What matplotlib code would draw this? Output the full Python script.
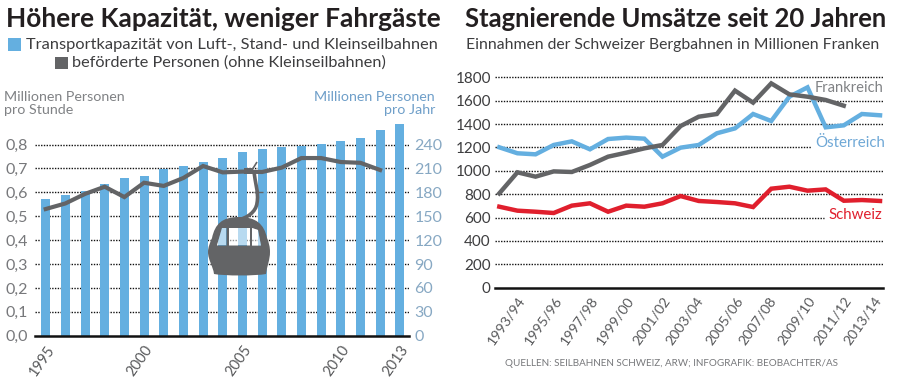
import matplotlib
matplotlib.use("Agg")
import matplotlib.pyplot as plt
from matplotlib.patches import PathPatch, Rectangle
from matplotlib.path import Path
from matplotlib.transforms import ScaledTranslation

BODY = "Lato"

years = list(range(1995, 2014))
capacity = [0.571, 0.589, 0.605, 0.633, 0.658, 0.669, 0.696, 0.711, 0.727, 0.745,
            0.769, 0.781, 0.791, 0.795, 0.802, 0.815, 0.827, 0.859, 0.884]
passengers = [159, 166, 178, 187, 174, 192, 188, 198, 213, 205,
              206, 205.5, 211, 223, 223, 218, 217, 208]
left_ticks = [0.0, 0.1, 0.2, 0.3, 0.4, 0.5, 0.6, 0.7, 0.8]
left_labels = ["0,0", "0,1", "0,2", "0,3", "0,4", "0,5", "0,6", "0,7", "0,8"]
right_ticks = [0, 30, 60, 90, 120, 150, 180, 210, 240]
year_ticks = [1995, 2000, 2005, 2010, 2013]

seasons = ["1992/93", "1993/94", "1994/95", "1995/96", "1996/97", "1997/98", "1998/99", "1999/00",
           "2000/01", "2001/02", "2002/03", "2003/04", "2004/05", "2005/06", "2006/07", "2007/08",
           "2008/09", "2009/10", "2010/11", "2011/12", "2012/13", "2013/14"]
oesterreich = [1201, 1150, 1141, 1221, 1252, 1184, 1272, 1284, 1275, 1121, 1198,
               1221, 1321, 1363, 1486, 1426, 1634, 1714, 1372, 1389, 1486, 1475]
frankreich = [807, 987, 950, 995, 990, 1050, 1121, 1155, 1192, 1221, 1383,
              1463, 1486, 1686, 1583, 1748, 1654, 1634, 1606, 1557]
schweiz = [693, 659, 650, 639, 702, 722, 650, 702, 693, 722, 784,
           742, 733, 722, 690, 847, 864, 830, 841, 744, 750, 742]
money_ticks = [0, 200, 400, 600, 800, 1000, 1200, 1400, 1600, 1800]

BLUE = "#64afe0"
GRAY = "#636466"
RED = "#e01f2d"
W, H = 900, 377

plt.rcParams["font.family"] = BODY
fig = plt.figure(figsize=(W / 100, H / 100), dpi=100)


def px_axes(x0, x1, y0, y1):
    return fig.add_axes([x0 / W, 1 - y0 / H, (x1 - x0) / W, (y0 - y1) / H])


def px_text(x, y, s, **kw):
    fig.text(x / W, 1 - y / H, s, **kw)


def gx(x):
    return x / W


def gy(y):
    return 1 - y / H


# left chart
ax = px_axes(35, 409, 335.7, 110)
ax.set_ylim(0, (335.7 - 110) / 239)
# 1995 sits at px 45.7, one year is 19.67 px
ax.set_xlim(1995 - 10.7 / 19.67, 1995 + (409 - 45.7) / 19.67)
ax.bar(years, capacity, width=0.46, color=BLUE, zorder=2)
for t in left_ticks[1:]:
    ax.axhline(t, color="#111111", lw=1, ls=(0, (1, 1)), zorder=1)
ax.set_yticks(left_ticks)
ax.set_yticklabels(left_labels, fontsize=11.5, color="#77787b")
ax.set_xticks(year_ticks)
ax.set_xticklabels([str(y) for y in year_ticks], rotation=55, ha="right", rotation_mode="anchor",
                   fontsize=10.5, color="#58595b")
ax.tick_params(length=0, pad=5)
for s in ["top", "left", "right"]:
    ax.spines[s].set_visible(False)
ax.spines["bottom"].set_linewidth(1.8)
ax.spines["bottom"].set_color("#111111")

ax2 = ax.twinx()
ax2.set_ylim(0, (335.7 - 110) / 239 * 300)
ax2.plot(years[:len(passengers)], passengers, color=GRAY, lw=3, zorder=3, solid_joinstyle="miter")
ax2.set_yticks(right_ticks)
ax2.set_yticklabels([str(t) for t in right_ticks], fontsize=11.5, color="#87a8c3")
ax2.tick_params(length=0, pad=4)
for s in ax2.spines.values():
    s.set_visible(False)


# gondola, in pixel coordinates of the figure
def fig_patch(points, codes, **kw):
    p = Path([(gx(a), gy(b)) for a, b in points], codes)
    fig.add_artist(PathPatch(p, transform=fig.transFigure, **kw))


M, L, C, Z = Path.MOVETO, Path.LINETO, Path.CURVE4, Path.CLOSEPOLY
# cable arm and clamp
fig_patch([(238, 220), (247, 218), (256, 212), (257, 203), (259, 193), (255, 182), (254, 172)],
          [M, C, C, C, C, C, C], fc="none", ec=GRAY, lw=2.6, zorder=5)
fig_patch([(252, 170), (257, 162)], [M, L], fc="none", ec=GRAY, lw=1.2, zorder=5)
fig_patch([(244, 168), (253, 168), (253, 174), (244, 174), (244, 168)], [M, L, L, L, Z], fc=GRAY, ec="none", zorder=5)
fig_patch([(254, 192), (263, 192)], [M, L], fc="none", ec=GRAY, lw=1, zorder=5)

# windows are holes in the body and get a white veil on top
windows = [
    [(217, 245.5), (226.5, 245.5), (226.5, 228), (222, 228), (217, 245.5)],
    [(229, 245.5), (250, 245.5), (250, 228), (229, 228), (229, 245.5)],
    [(252, 245.5), (261, 245.5), (258, 230), (252, 228), (252, 245.5)],
]
body = [(239, 217), (256, 217), (264, 224), (267, 238), (269, 243), (270, 247), (270, 252),
        (270, 260), (267, 266), (266, 274), (255, 276), (225, 276), (214, 274),
        (213, 266), (208, 260), (208, 252), (208, 247), (210, 243), (212, 238),
        (215, 224), (222, 217), (239, 217)]
body_codes = [M] + [C] * 21
pts, codes = list(body), list(body_codes)
for w in windows:
    pts += w
    codes += [M, L, L, L, Z]
fig_patch(pts, codes, fc=GRAY, ec="none", zorder=5)
for w in windows:
    fig_patch(w, [M, L, L, L, Z], fc="white", ec="none", alpha=0.55, zorder=6)

# left headings
px_text(6, 19, "Höhere Kapazität, weniger Fahrgäste", fontsize=18.9, fontweight="bold",
        color="#231f20", va="center")
fig.add_artist(Rectangle((gx(8), gy(51)), 13 / W, 13 / H, transform=fig.transFigure, fc=BLUE, ec="none"))
px_text(26, 45, "Transportkapazität von Luft-, Stand- und Kleinseilbahnen", fontsize=11.75, color="#3d3d3f", va="center")
fig.add_artist(Rectangle((gx(55), gy(69)), 13 / W, 12 / H, transform=fig.transFigure, fc=GRAY, ec="none"))
px_text(72, 63, "beförderte Personen (ohne Kleinseilbahnen)", fontsize=11.7, color="#3d3d3f", va="center")
px_text(4, 97, "Millionen Personen", fontsize=10.3, color="#808285", va="center")
px_text(4, 110, "pro Stunde", fontsize=10.3, color="#808285", va="center")
px_text(435, 97, "Millionen Personen", fontsize=10.3, color="#6f9fc9", va="center", ha="right")
px_text(435, 110, "pro Jahr", fontsize=10.3, color="#6f9fc9", va="center", ha="right")

# right chart
bx = px_axes(495, 883, 287.7, 70)
bx.set_ylim(0, (287.7 - 70) / 210.4 * 1800)
# first season at px 499.3, one season is 18.13 px
bx.set_xlim(-4.3 / 18.13, (883 - 499.3) / 18.13)
for t in money_ticks[1:]:
    # the gridlines stop short of the Österreich and Schweiz labels
    stop = {1200: 0.814, 600: 0.848}.get(t, 1)
    bx.axhline(t, xmax=stop, color="#111111", lw=1, ls=(0, (1, 1)), zorder=1)
idx = list(range(len(seasons)))
bx.plot(idx, oesterreich, color=BLUE, lw=3.2, zorder=3, solid_joinstyle="miter")
bx.plot(idx[:len(frankreich)], frankreich, color=GRAY, lw=3.2, zorder=4, solid_joinstyle="miter")
bx.plot(idx, schweiz, color=RED, lw=3.2, zorder=3, solid_joinstyle="miter")
bx.set_yticks(money_ticks)
bx.set_yticklabels([str(t) for t in money_ticks], fontsize=11, color="#3d3d3f")
bx.set_xticks(idx[1::2])
bx.set_xticklabels(seasons[1::2], rotation=55, ha="right", rotation_mode="anchor", fontsize=10.2, color="#58595b")
bx.tick_params(length=0, pad=5)
bx.tick_params(axis="y", pad=3)
# tick_params resets label transforms, so nudge after it
nudge = {"2003/04": -3.5, "2007/08": -3, "2013/14": -6}
for lab in bx.get_xticklabels():
    if lab.get_text() in nudge:
        lab.set_transform(lab.get_transform() + ScaledTranslation(nudge[lab.get_text()] / 100, 0, fig.dpi_scale_trans))
for s in ["top", "left", "right"]:
    bx.spines[s].set_visible(False)
bx.spines["bottom"].set_linewidth(1.8)
bx.spines["bottom"].set_color("#111111")

px_text(884, 88, "Frankreich", fontsize=10.6, color="#808285", ha="right", va="center", zorder=5)
px_text(885, 143, "Österreich", fontsize=10.8, color="#6fa8d6", ha="right", va="center", zorder=5)
px_text(882, 215, "Schweiz", fontsize=10.8, color=RED, ha="right", va="center", zorder=5)

px_text(465, 19, "Stagnierende Umsätze seit 20 Jahren", fontsize=18.45, fontweight="bold",
        color="#231f20", va="center")
px_text(466, 45, "Einnahmen der Schweizer Bergbahnen in Millionen Franken", fontsize=11.3, color="#3d3d3f", va="center")
px_text(505, 363, "QUELLEN: SEILBAHNEN SCHWEIZ, ARW; INFOGRAFIK: BEOBACHTER/AS", fontsize=7.15, color="#77787b", va="center")

fig.savefig("out.png", dpi=100)
